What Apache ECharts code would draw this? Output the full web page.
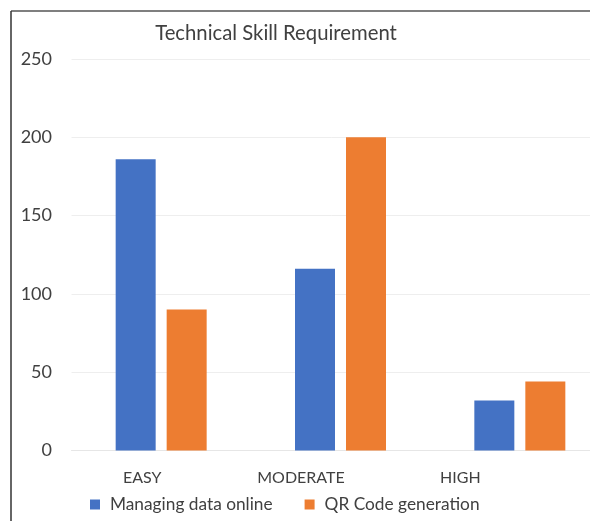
<!DOCTYPE html>
<html>
<head>
<meta charset="utf-8">
<script src="https://cdn.jsdelivr.net/npm/echarts@6/dist/echarts.min.js"></script>
<style>html,body{margin:0;padding:0;background:#fff}#c{width:590px;height:521px}</style>
</head>
<body>
<div id="c"></div>
<script>
var categories = ['EASY', 'MODERATE', 'HIGH'];
var managingData = [186, 116, 32];
var qrCode = [90, 200, 44];
var yTicks = [0, 50, 100, 150, 200, 250];
var labelShift = [38, 79, 119];

var FONT = 'Lato';
var TEXT = '#404040';
var chart = echarts.init(document.getElementById('c'), null, {renderer: 'canvas'});
var rich = {};
labelShift.forEach(function (s, i) { rich['l' + i] = {padding: [0, s, 0, 0], fontSize: 16, color: TEXT, fontFamily: FONT}; });

chart.setOption({
  animation: false,
  backgroundColor: '#fff',
  title: {
    text: 'Technical Skill Requirement',
    left: 271, top: 18, textAlign: 'center',
    textStyle: {fontFamily: FONT, fontSize: 20.3, fontWeight: 'normal', color: TEXT}
  },
  graphic: [
    {type: 'line', shape: {x1: 11, y1: 11, x2: 590, y2: 11}, style: {stroke: '#555', lineWidth: 1.5}},
    {type: 'line', shape: {x1: 11, y1: 11, x2: 11, y2: 521}, style: {stroke: '#333', lineWidth: 1.5}}
  ],
  legend: {
    left: 90, top: 496, padding: 0,
    itemWidth: 10, itemHeight: 10, itemGap: 32,
    icon: 'rect',
    textStyle: {fontFamily: FONT, fontSize: 17.3, color: TEXT, padding: [0, 0, 0, 5]},
    data: ['Managing data online', 'QR Code generation']
  },
  grid: {left: 71.5, top: 59, right: -19.5, bottom: 70.5, containLabel: false, outerBoundsMode: 'none'},
  xAxis: {
    type: 'category', data: categories,
    axisTick: {show: false},
    axisLine: {show: true, lineStyle: {color: '#e6e6e6', width: 1}},
    axisLabel: {
      margin: 19, interval: 0,
      formatter: function (v) { var i = categories.indexOf(v); return '{l' + i + '|' + v + '}'; },
      rich: rich
    }
  },
  yAxis: {
    type: 'value', min: yTicks[0], max: yTicks[yTicks.length - 1], interval: 50,
    axisLine: {show: false}, axisTick: {show: false},
    splitLine: {lineStyle: {color: '#eeeeee', width: 1}},
    axisLabel: {margin: 19.5, fontFamily: FONT, fontSize: 18, color: TEXT}
  },
  series: [
    {name: 'Managing data online', type: 'bar', data: managingData, barWidth: 40, barGap: '27.5%',
     itemStyle: {color: '#4472C4'}},
    {name: 'QR Code generation', type: 'bar', data: qrCode, barWidth: 40,
     itemStyle: {color: '#ED7D31'}}
  ]
});
</script>
</body>
</html>
